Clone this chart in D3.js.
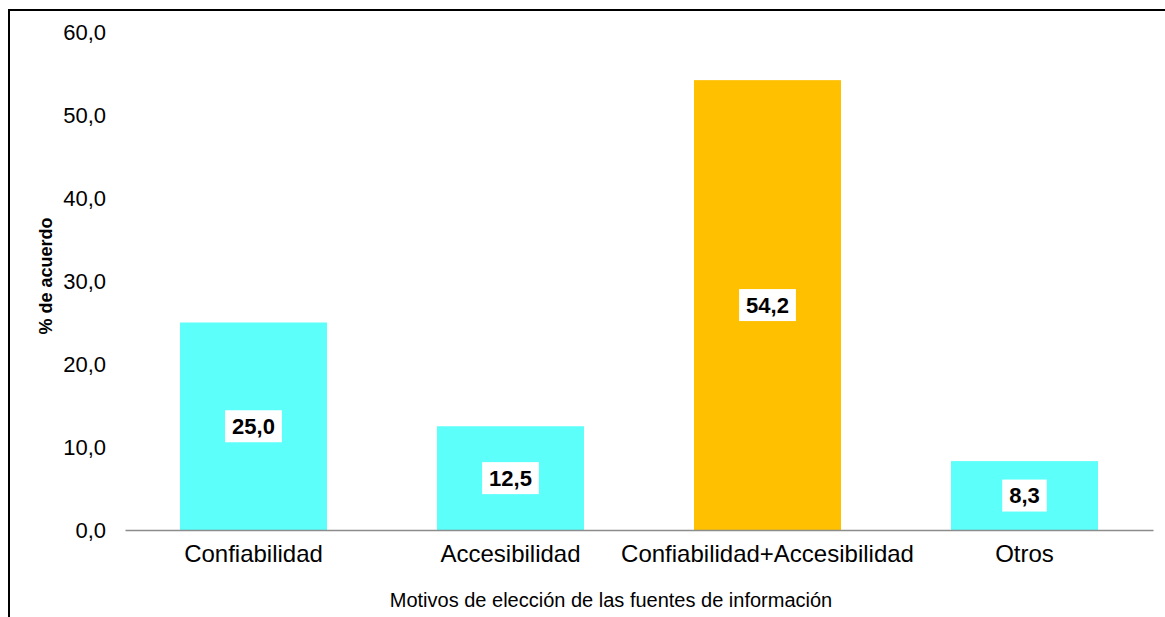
<!DOCTYPE html>
<html>
<head>
<meta charset="utf-8">
<script src="https://cdn.jsdelivr.net/npm/d3@7"></script>
<style>
    body { margin: 0; background: #fff; }
    text { font-family: "Liberation Sans", Arial, sans-serif; fill: #000; }
</style>
</head>
<body>
<div id="chart"></div>
<script>
// Categories and values
var categories = ["Confiabilidad", "Accesibilidad", "Confiabilidad+Accesibilidad", "Otros"];
var values = [25.0, 12.5, 54.2, 8.3];
var barColours = ["#5CFFFA", "#5CFFFA", "#FFC000", "#5CFFFA"];
var yTicks = [0, 10, 20, 30, 40, 50, 60];

var W = 1165, H = 617;
var fmt = function (v) { return v.toFixed(1).replace(".", ","); };

var svg = d3.select("#chart").append("svg")
    .attr("width", W)
    .attr("height", H);

// Frame (only left and top edges are visible)
svg.append("path")
    .attr("d", "M9," + H + "V10H" + W)
    .attr("fill", "none")
    .attr("stroke", "#000")
    .attr("stroke-width", 2);

// Scales
var xScale = d3.scaleBand()
    .domain(categories)
    .range([125, 1153])
    .paddingInner(0.428)
    .paddingOuter(0.214);

var yScale = d3.scaleLinear()
    .domain([0, 60])
    .range([530, 32]);

// Y axis: labels only, no line
var yAxis = svg.append("g")
    .attr("transform", "translate(106,0)")
    .call(d3.axisLeft(yScale).tickValues(yTicks).tickFormat(fmt).tickSize(0).tickPadding(0));
yAxis.select(".domain").remove();
yAxis.selectAll("text")
    .style("font-size", "22px")
    .attr("dy", "0.36em");

// Bars
svg.selectAll("rect.bar")
    .data(values)
    .enter()
    .append("rect")
    .attr("class", "bar")
    .attr("x", function (d, i) { return xScale(categories[i]); })
    .attr("y", function (d) { return yScale(d); })
    .attr("width", xScale.bandwidth())
    .attr("height", function (d) { return yScale(0) - yScale(d); })
    .attr("fill", function (d, i) { return barColours[i]; });

// X axis: baseline + category labels
var xAxis = svg.append("g")
    .attr("transform", "translate(0," + yScale(0) + ")")
    .call(d3.axisBottom(xScale).tickSize(0).tickPadding(0).tickSizeOuter(0));
xAxis.select(".domain").attr("stroke", "#8c8c8c").attr("stroke-width", 1.5);
xAxis.selectAll("text")
    .style("font-size", "24px")
    .attr("y", 32)
    .attr("dy", 0);

// Value labels with white boxes
var labels = svg.selectAll("g.vlabel")
    .data(values)
    .enter()
    .append("g")
    .attr("class", "vlabel")
    .attr("transform", function (d, i) {
        return "translate(" + (xScale(categories[i]) + xScale.bandwidth() / 2) + "," + ((yScale(0) + yScale(d)) / 2) + ")";
    });
labels.append("text")
    .attr("text-anchor", "middle")
    .attr("dy", "0.36em")
    .style("font-size", "22px")
    .style("font-weight", "bold")
    .text(fmt);
labels.each(function () {
    var g = d3.select(this);
    var bb = g.select("text").node().getBBox();
    g.insert("rect", "text")
        .attr("x", bb.x - 7)
        .attr("y", -16)
        .attr("width", bb.width + 14)
        .attr("height", 32)
        .attr("fill", "#fff");
});

// Axis titles
svg.append("text")
    .attr("x", 611)
    .attr("y", 607)
    .attr("text-anchor", "middle")
    .style("font-size", "20px")
    .text("Motivos de elección de las fuentes de información");

svg.append("text")
    .attr("transform", "translate(52,276)rotate(-90)")
    .attr("text-anchor", "middle")
    .style("font-size", "18px")
    .style("font-weight", "bold")
    .text("% de acuerdo");
</script>
</body>
</html>
